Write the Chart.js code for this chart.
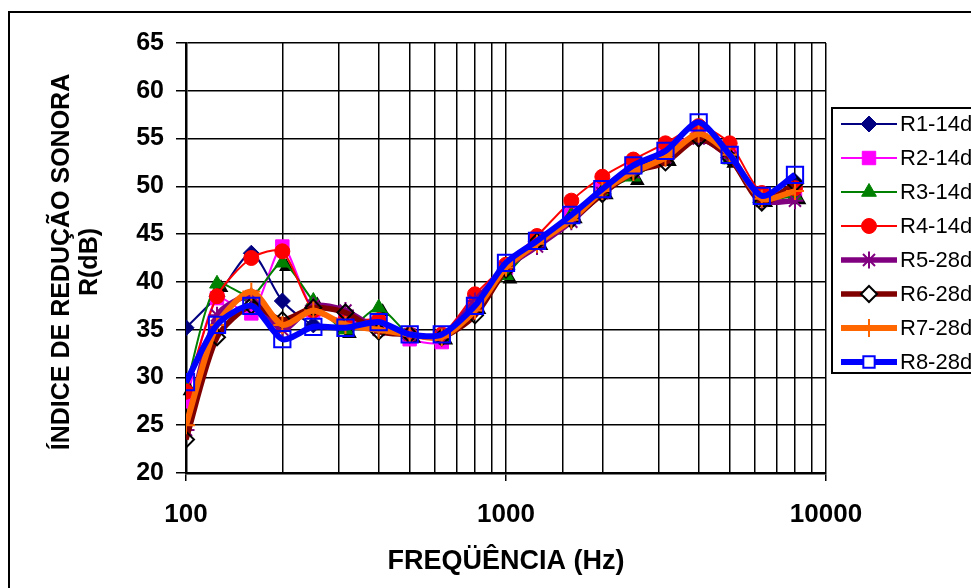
<!DOCTYPE html>
<html>
<head>
<meta charset="utf-8">
<script src="https://cdn.jsdelivr.net/npm/chart.js@4/dist/chart.umd.min.js"></script>
<style>
html,body{margin:0;padding:0;background:#fff;}
#wrap{width:971px;height:588px;position:relative;}
</style>
</head>
<body>
<div id="wrap"><canvas id="c" width="971" height="588"></canvas></div>
<script>
const freqs = [100,125,160,200,250,315,400,500,630,800,1000,1250,1600,2000,2500,3150,4000,5000,6300,8000];
const R1 = [35.2,38.5,43.0,38.0,35.5,35.5,36.0,34.5,34.2,37.5,41.5,44.3,46.8,49.5,51.8,53.5,55.5,53.0,48.7,50.5];
const R2 = [27.5,38.3,36.7,43.7,37.0,36.0,35.5,34.0,33.7,38.0,41.5,44.5,47.0,49.8,52.0,53.8,55.5,53.5,49.0,49.5];
const R3 = [29.0,39.8,38.5,42.0,38.0,35.0,37.3,34.5,34.3,37.5,40.7,44.2,47.0,49.5,51.0,53.0,55.3,52.8,48.7,49.0];
const R4 = [28.5,38.5,42.5,43.2,37.0,36.0,36.0,34.5,34.5,38.7,41.8,44.8,48.5,51.0,52.8,54.5,56.3,54.5,49.3,49.8];
const R5 = [24.5,36.5,38.5,35.0,37.5,37.0,35.0,34.5,34.3,38.0,41.5,43.7,46.3,49.3,51.5,53.0,55.0,53.0,48.5,48.5];
const R6 = [23.5,34.2,37.5,36.0,37.3,36.8,34.8,34.5,34.2,36.5,41.3,44.2,46.5,49.2,51.5,52.5,55.0,53.0,48.3,50.3];
const R7 = [25.0,35.5,39.0,35.5,37.0,35.5,35.0,34.5,34.2,37.0,41.5,44.0,46.5,49.5,51.5,53.0,55.5,53.3,48.7,49.5];
const R8 = [29.5,35.5,37.5,34.0,35.3,35.2,35.8,34.5,34.5,37.5,42.0,44.3,47.0,49.7,52.2,53.7,56.7,53.3,49.0,51.2];
const seriesNames = ['R1-14d','R2-14d','R3-14d','R4-14d','R5-28d','R6-28d','R7-28d','R8-28d'];
const seriesValues = [R1,R2,R3,R4,R5,R6,R7,R8];
const xTickLabels = [100,1000,10000];
const yMin = 20, yMax = 65, yStep = 5;
const xTitle = 'FREQÜÊNCIA (Hz)';
const yTitle = ['ÍNDICE DE REDUÇÃO SONORA','R(dB)'];

const styles = [
  {color:'#000080', point:'rectRot', r:8, bg:'#000080', pb:'#000080', w:2, pbw:1},
  {color:'#FF00FF', point:'rect', r:9.5, bg:'#FF00FF', pb:'#FF00FF', w:2, pbw:1},
  {color:'#008000', point:'triangle', r:8.5, bg:'#008000', pb:'#008000', w:2, pbw:1},
  {color:'#FF0000', point:'circle', r:7.5, bg:'#FF0000', pb:'#FF0000', w:2, pbw:1},
  {color:'#800080', point:'star', r:8.5, bg:'transparent', pb:'#800080', w:5.5, pbw:2},
  {color:'#800000', point:'rectRot', r:8, bg:'transparent', pb:'#000000', w:5.5, pbw:2},
  {color:'#FF6600', point:'cross', r:9, bg:'transparent', pb:'#FF6600', w:6, pbw:2},
  {color:'#0000FF', point:'rect', r:11.5, bg:'transparent', pb:'#0000FF', w:6, pbw:2}
];

const datasets = seriesValues.map((vals,i)=>({
  label: seriesNames[i],
  data: freqs.map((f,j)=>({x:f,y:vals[j]})),
  borderColor: styles[i].color,
  backgroundColor: styles[i].bg,
  borderWidth: styles[i].w,
  pointStyle: styles[i].point,
  pointRadius: styles[i].r,
  pointBackgroundColor: styles[i].bg,
  pointBorderColor: styles[i].pb,
  pointBorderWidth: styles[i].pbw,
  pointHoverRadius: styles[i].r,
  tension: 0.25,
  fill: false,
  order: 8 - i
}));

const FONT = '"Liberation Sans", Arial, sans-serif';

const decor = {
  id:'decor',
  beforeDraw(chart){
    const ctx = chart.ctx;
    ctx.save();
    ctx.fillStyle = '#fff';
    ctx.fillRect(0,0,chart.width,chart.height);
    ctx.strokeStyle = '#000';
    ctx.lineWidth = 2;
    ctx.beginPath();
    ctx.moveTo(9,590); ctx.lineTo(9,12); ctx.lineTo(975,12);
    ctx.stroke();
    ctx.restore();
  },
  beforeDatasetDraw(chart, args){
    // marker shadow for the triangle series (as in the original Excel chart)
    if (args.index !== 2) return;
    const ctx = chart.ctx;
    const meta = args.meta;
    ctx.save();
    ctx.fillStyle = '#000';
    meta.data.forEach(pt=>{
      if (Chart.helpers && Chart.helpers.drawPoint) {
        Chart.helpers.drawPoint(ctx, {pointStyle:'triangle', radius:styles[2].r, rotation:0, borderWidth:0}, pt.x+4, pt.y+4);
      }
    });
    ctx.restore();
  },
  afterDraw(chart){
    const ctx = chart.ctx;
    const ca = chart.chartArea;
    ctx.save();
    ctx.fillStyle = '#000';
    ctx.textAlign = 'center';
    ctx.textBaseline = 'middle';
    ctx.font = 'bold 27px ' + FONT;
    ctx.fillText(xTitle, (ca.left+ca.right)/2, 562);
    ctx.font = 'bold 25px ' + FONT;
    ctx.save();
    ctx.translate(62, 262);
    ctx.rotate(-Math.PI/2);
    ctx.fillText(yTitle[0], 0, 0);
    ctx.restore();
    ctx.save();
    ctx.translate(90, 262);
    ctx.rotate(-Math.PI/2);
    ctx.fillText(yTitle[1], 0, 0);
    ctx.restore();
    // legend
    ctx.fillStyle = '#fff';
    ctx.fillRect(832,108,150,265);
    ctx.strokeStyle = '#000';
    ctx.lineWidth = 2;
    ctx.strokeRect(832,108,150,265);
    chart.data.datasets.forEach((ds,i)=>{
      const y = 124 + 34*i;
      ctx.strokeStyle = ds.borderColor;
      ctx.lineWidth = ds.borderWidth;
      ctx.beginPath();
      ctx.moveTo(841,y); ctx.lineTo(897,y);
      ctx.stroke();
      const st = styles[i];
      const fillLeg = (i===5||i===7) ? '#fff' : st.bg;
      ctx.fillStyle = fillLeg;
      ctx.strokeStyle = st.pb;
      ctx.lineWidth = st.pbw;
      if (Chart.helpers && Chart.helpers.drawPoint) {
        Chart.helpers.drawPoint(ctx, {pointStyle: st.point, radius: (i===7?8:st.r), rotation:0, borderWidth: st.pbw}, 869, y);
      }
      ctx.fillStyle = '#000';
      ctx.font = '22px ' + FONT;
      ctx.textAlign = 'left';
      ctx.textBaseline = 'middle';
      ctx.fillText(ds.label, 900, y+1);
    });
    ctx.restore();
  }
};

new Chart(document.getElementById('c'), {
  type:'line',
  data:{datasets},
  options:{
    responsive:false,
    animation:false,
    events:[],
    layout:{padding:{left:0, top:43, right:145, bottom:0}},
    plugins:{legend:{display:false}, tooltip:{enabled:false}},
    scales:{
      x:{
        type:'logarithmic',
        min:100, max:10000,
        afterFit(s){ s.height = 115; },
        border:{color:'#000', width:2.5},
        grid:{
          color:'#000', lineWidth:1.5, drawTicks:true, tickLength:8,
          tickColor(ctx){ const v = ctx.tick ? ctx.tick.value : 0; return xTickLabels.includes(v) ? '#000' : 'rgba(0,0,0,0)'; }
        },
        ticks:{
          autoSkip:false, maxRotation:0, minRotation:0, padding:18,
          color:'#000', font:{family:FONT, size:26, weight:'bold'},
          callback(v){ return xTickLabels.includes(v) ? String(v) : ''; }
        }
      },
      y:{
        type:'linear',
        min:yMin, max:yMax,
        afterFit(s){ s.width = 186; },
        border:{color:'#000', width:2.5},
        grid:{color:'#000', lineWidth:1.5, tickLength:10, tickColor:'#000'},
        ticks:{
          stepSize:yStep, padding:12, color:'#000',
          font:{family:FONT, size:25, weight:'bold'}
        }
      }
    }
  },
  plugins:[decor]
});
</script>
</body>
</html>
